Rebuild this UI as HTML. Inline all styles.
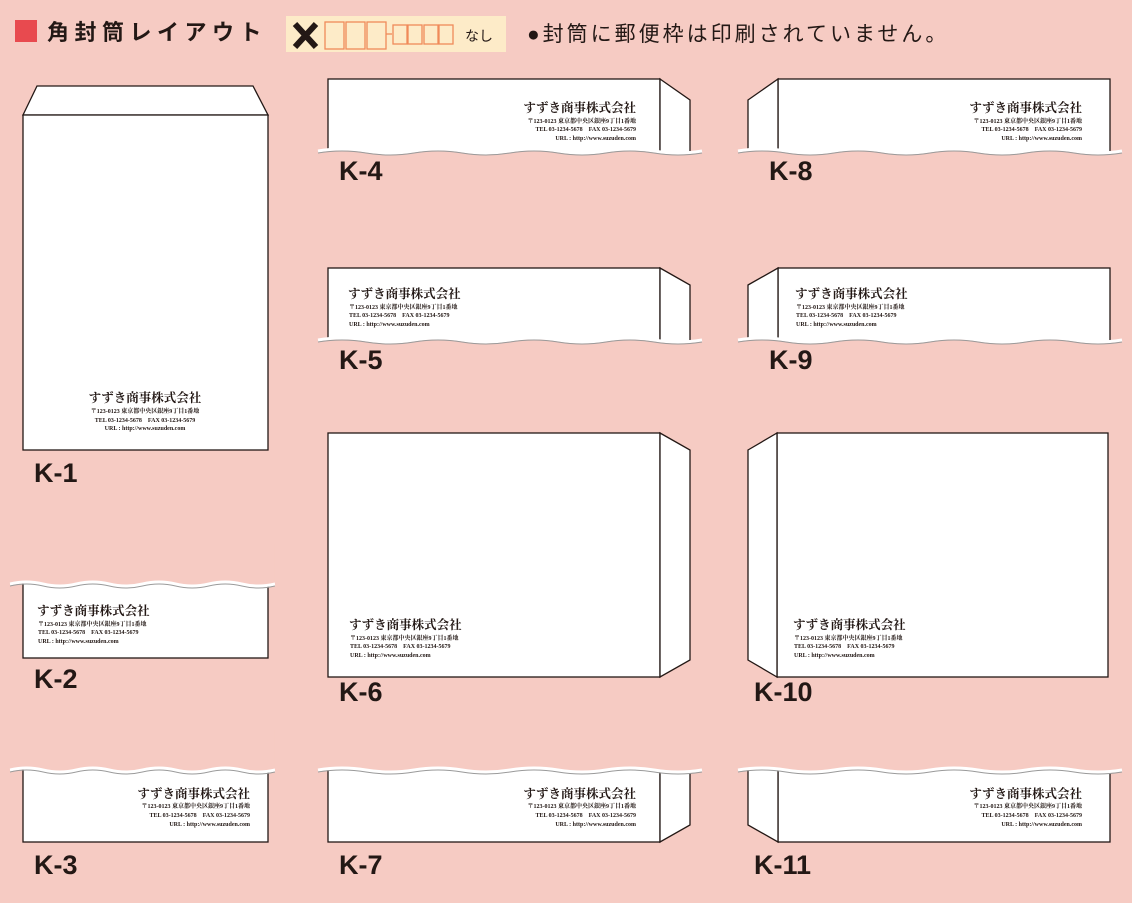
<!DOCTYPE html>
<html><head><meta charset="utf-8"><style>
body{margin:0;background:#f6cbc3;}
svg{display:block}
.c{font-family:"Liberation Serif","Noto Serif CJK JP",serif;font-weight:bold;font-size:12.5px;fill:#231815}
.s{font-family:"Liberation Serif","Noto Serif CJK JP",serif;font-weight:bold;font-size:6px;fill:#231815}
.k{font-family:"Liberation Sans",sans-serif;font-weight:bold;font-size:27px;fill:#231815}
.e{fill:#fff;stroke:#231815;stroke-width:1.3}
</style></head><body>
<svg width="1132" height="903" viewBox="0 0 1132 903">
<defs>
<path id="w" d="M0 0 Q24 -4 48 0 T96 0 T144 0 T192 0 T240 0 T288 0 T336 0 T384 0"/>
<path id="cb" d="M0 0 Q24 -4 48 0 T96 0 T144 0 T192 0 T240 0 T288 0 T336 0 T384 0 L384 40 L0 40 Z"/>
<path id="ct" d="M0 0 Q24 -4 48 0 T96 0 T144 0 T192 0 T240 0 T288 0 T336 0 T384 0 L384 -40 L0 -40 Z"/>
<g id="wl"><use href="#w" fill="none" stroke="#fff" stroke-width="3"/><use href="#w" transform="translate(0,2)" fill="none" stroke="#9a9a9a" stroke-width="1"/></g>
</defs>
<rect width="1132" height="903" fill="#f6cbc3"/>
<!-- header -->
<rect x="15" y="20" width="22" height="22" fill="#e84a4f"/>
<text x="47" y="40" font-family="Liberation Sans,'Noto Sans CJK JP',sans-serif" font-weight="bold" font-size="22" fill="#231815" letter-spacing="5.5">角封筒レイアウト</text>
<rect x="286" y="16" width="220" height="36" fill="#fdebc8"/>
<path d="M295 24 L316 47 M316 24 L295 47" stroke="#231815" stroke-width="6"/>
<g fill="none" stroke="#f08a5a" stroke-width="1.3">
<rect x="325" y="22" width="19" height="27"/><rect x="346" y="22" width="19" height="27"/><rect x="367" y="22" width="19" height="27"/><line x1="386" y1="34" x2="392" y2="34"/>
<rect x="393" y="25" width="14" height="19"/><rect x="408" y="25" width="14" height="19"/><rect x="424" y="25" width="14" height="19"/><rect x="439" y="25" width="14" height="19"/>
</g>
<text x="465" y="41" font-family="Liberation Sans,'Noto Sans CJK JP',sans-serif" font-size="14" fill="#231815">なし</text>
<text x="527" y="41" font-family="Liberation Sans,'Noto Sans CJK JP',sans-serif" font-size="21" fill="#231815" letter-spacing="3">●封筒に郵便枠は印刷されていません。</text>

<!-- K-1 -->
<polygon class="e" points="23,115 37,86 253,86 268,115"/>
<rect class="e" x="23" y="115" width="245" height="335"/>
<g text-anchor="middle"><text class="c" x="145" y="402">すずき商事株式会社</text>
<text class="s" x="145" y="413">〒123-0123 東京都中央区銀座9丁目1番地</text>
<text class="s" x="145" y="422">TEL 03-1234-5678　FAX 03-1234-5679</text>
<text class="s" x="145" y="430">URL : http://www.suzuden.com</text></g>
<text class="k" x="34" y="482">K-1</text>

<!-- K-4 -->
<rect class="e" x="328" y="79" width="332" height="90"/>
<polygon class="e" points="660,79 690,100 690,170 660,170"/>
<use href="#cb" x="318" y="151" fill="#f6cbc3"/>
<use href="#wl" x="318" y="151"/>
<g text-anchor="end"><text class="c" x="636" y="112">すずき商事株式会社</text>
<text class="s" x="636" y="123">〒123-0123 東京都中央区銀座9丁目1番地</text>
<text class="s" x="636" y="131">TEL 03-1234-5678　FAX 03-1234-5679</text>
<text class="s" x="636" y="140">URL : http://www.suzuden.com</text></g>
<text class="k" x="339" y="180">K-4</text>

<!-- K-8 -->
<rect class="e" x="778" y="79" width="332" height="90"/>
<polygon class="e" points="748,100 778,79 778,170 748,170"/>
<use href="#cb" x="738" y="151" fill="#f6cbc3"/>
<use href="#wl" x="738" y="151"/>
<g text-anchor="end"><text class="c" x="1082" y="112">すずき商事株式会社</text>
<text class="s" x="1082" y="123">〒123-0123 東京都中央区銀座9丁目1番地</text>
<text class="s" x="1082" y="131">TEL 03-1234-5678　FAX 03-1234-5679</text>
<text class="s" x="1082" y="140">URL : http://www.suzuden.com</text></g>
<text class="k" x="769" y="180">K-8</text>

<!-- K-5 -->
<rect class="e" x="328" y="268" width="332" height="90"/>
<polygon class="e" points="660,268 690,285 690,358 660,358"/>
<use href="#cb" x="318" y="340" fill="#f6cbc3"/>
<use href="#wl" x="318" y="340"/>
<g><text class="c" x="348" y="298">すずき商事株式会社</text>
<text class="s" x="349" y="309">〒123-0123 東京都中央区銀座9丁目1番地</text>
<text class="s" x="349" y="317">TEL 03-1234-5678　FAX 03-1234-5679</text>
<text class="s" x="349" y="326">URL : http://www.suzuden.com</text></g>
<text class="k" x="339" y="369">K-5</text>

<!-- K-9 -->
<rect class="e" x="778" y="268" width="332" height="90"/>
<polygon class="e" points="748,285 778,268 778,358 748,358"/>
<use href="#cb" x="738" y="340" fill="#f6cbc3"/>
<use href="#wl" x="738" y="340"/>
<g><text class="c" x="795" y="298">すずき商事株式会社</text>
<text class="s" x="796" y="309">〒123-0123 東京都中央区銀座9丁目1番地</text>
<text class="s" x="796" y="317">TEL 03-1234-5678　FAX 03-1234-5679</text>
<text class="s" x="796" y="326">URL : http://www.suzuden.com</text></g>
<text class="k" x="769" y="369">K-9</text>

<!-- K-6 -->
<rect class="e" x="328" y="433" width="332" height="244"/>
<polygon class="e" points="660,433 690,450 690,660 660,677"/>
<g><text class="c" x="349" y="629">すずき商事株式会社</text>
<text class="s" x="350" y="640">〒123-0123 東京都中央区銀座9丁目1番地</text>
<text class="s" x="350" y="648">TEL 03-1234-5678　FAX 03-1234-5679</text>
<text class="s" x="350" y="657">URL : http://www.suzuden.com</text></g>
<text class="k" x="339" y="701">K-6</text>

<!-- K-10 -->
<rect class="e" x="777" y="433" width="331" height="244"/>
<polygon class="e" points="748,450 777,433 777,677 748,660"/>
<g><text class="c" x="793" y="629">すずき商事株式会社</text>
<text class="s" x="794" y="640">〒123-0123 東京都中央区銀座9丁目1番地</text>
<text class="s" x="794" y="648">TEL 03-1234-5678　FAX 03-1234-5679</text>
<text class="s" x="794" y="657">URL : http://www.suzuden.com</text></g>
<text class="k" x="754" y="701">K-10</text>

<!-- K-2 -->
<rect class="e" x="23" y="575" width="245" height="83"/>
<g transform="translate(10,584) scale(0.69,1)"><use href="#ct" fill="#f6cbc3"/><use href="#wl"/></g>
<g><text class="c" x="37" y="615">すずき商事株式会社</text>
<text class="s" x="38" y="626">〒123-0123 東京都中央区銀座9丁目1番地</text>
<text class="s" x="38" y="634">TEL 03-1234-5678　FAX 03-1234-5679</text>
<text class="s" x="38" y="643">URL : http://www.suzuden.com</text></g>
<text class="k" x="34" y="688">K-2</text>

<!-- K-3 -->
<rect class="e" x="23" y="760" width="245" height="82"/>
<g transform="translate(10,770) scale(0.69,1)"><use href="#ct" fill="#f6cbc3"/><use href="#wl"/></g>
<g text-anchor="end"><text class="c" x="250" y="798">すずき商事株式会社</text>
<text class="s" x="250" y="808">〒123-0123 東京都中央区銀座9丁目1番地</text>
<text class="s" x="250" y="817">TEL 03-1234-5678　FAX 03-1234-5679</text>
<text class="s" x="250" y="826">URL : http://www.suzuden.com</text></g>
<text class="k" x="34" y="874">K-3</text>

<!-- K-7 -->
<rect class="e" x="328" y="760" width="332" height="82"/>
<polygon class="e" points="660,760 690,760 690,825 660,842"/>
<use href="#ct" x="318" y="770" fill="#f6cbc3"/>
<use href="#wl" x="318" y="770"/>
<g text-anchor="end"><text class="c" x="636" y="798">すずき商事株式会社</text>
<text class="s" x="636" y="808">〒123-0123 東京都中央区銀座9丁目1番地</text>
<text class="s" x="636" y="817">TEL 03-1234-5678　FAX 03-1234-5679</text>
<text class="s" x="636" y="826">URL : http://www.suzuden.com</text></g>
<text class="k" x="339" y="874">K-7</text>

<!-- K-11 -->
<rect class="e" x="778" y="760" width="332" height="82"/>
<polygon class="e" points="748,760 778,760 778,842 748,825"/>
<use href="#ct" x="738" y="770" fill="#f6cbc3"/>
<use href="#wl" x="738" y="770"/>
<g text-anchor="end"><text class="c" x="1082" y="798">すずき商事株式会社</text>
<text class="s" x="1082" y="808">〒123-0123 東京都中央区銀座9丁目1番地</text>
<text class="s" x="1082" y="817">TEL 03-1234-5678　FAX 03-1234-5679</text>
<text class="s" x="1082" y="826">URL : http://www.suzuden.com</text></g>
<text class="k" x="754" y="874">K-11</text>
</svg>
</body></html>
